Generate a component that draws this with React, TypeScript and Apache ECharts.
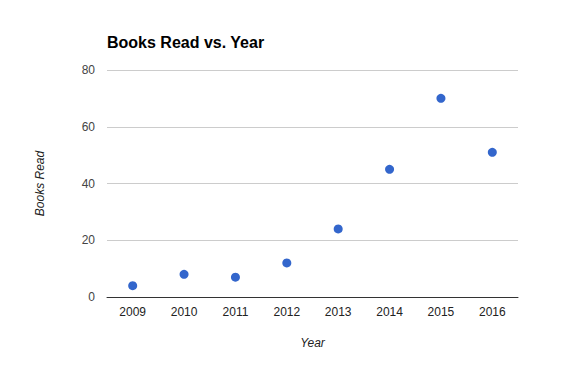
import React, { useEffect, useRef } from "react";
import * as echarts from "echarts";

const years = ["2009", "2010", "2011", "2012", "2013", "2014", "2015", "2016"];
const booksRead = [4, 8, 7, 12, 24, 45, 70, 51];
const yTicks = { min: 0, max: 80, interval: 20 };

export default function App() {
  const ref = useRef<HTMLDivElement>(null);
  useEffect(() => {
    document.body.style.margin = "0";
    const chart = echarts.init(ref.current!, null, { renderer: "svg" });
    chart.setOption({
      animation: false,
      backgroundColor: "#ffffff",
      textStyle: { fontFamily: "Liberation Sans, Arial, sans-serif" },
      title: {
        text: "Books Read vs. Year",
        left: 102,
        top: 29,
        textStyle: { fontSize: 16, fontWeight: "bold", color: "#000" },
      },
      grid: { left: 107, right: 45, top: 70, bottom: 69 },
      xAxis: {
        type: "category",
        data: years,
        name: "Year",
        nameLocation: "middle",
        nameGap: 40,
        nameTextStyle: { fontStyle: "italic", fontSize: 12, color: "#222" },
        axisLine: { lineStyle: { color: "#333", width: 1 } },
        axisTick: { show: false },
        axisLabel: { color: "#222", fontSize: 12, margin: 9 },
        splitLine: { show: false },
      },
      yAxis: {
        type: "value",
        min: yTicks.min,
        max: yTicks.max,
        interval: yTicks.interval,
        name: "Books Read",
        nameLocation: "middle",
        nameGap: 61,
        nameTextStyle: { fontStyle: "italic", fontSize: 12, color: "#222" },
        axisLine: { show: false },
        axisTick: { show: false },
        axisLabel: { color: "#444", fontSize: 12, margin: 12 },
        splitLine: { lineStyle: { color: "#cccccc", width: 1 } },
      },
      series: [
        {
          type: "scatter",
          data: booksRead,
          symbolSize: 9,
          itemStyle: { color: "#3366cc", opacity: 1 },
        },
      ],
    });
    return () => chart.dispose();
  }, []);
  return <div ref={ref} style={{ width: 563, height: 366 }} />;
}
